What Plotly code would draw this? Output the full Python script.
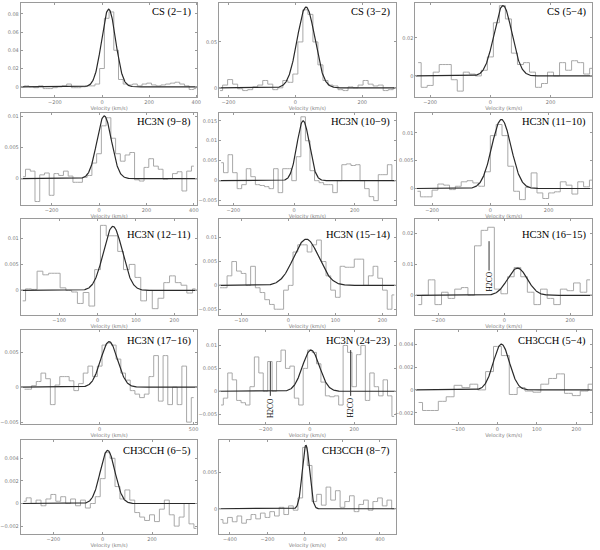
import numpy as np
import plotly.graph_objects as go

# ---------------- data (channel velocities in km/s, intensities) ----------------
cs21_v = [-340,-320,-300,-280,-260,-240,-220,-200,-180,-160,-140,-120,-100,-80,-60,-40,-20,0,20,40,60,80,100,120,140,160,180,200,220,240,260,280,300,320,340,360,380,400]
cs21_t = [0.000,0.001,0.000,-0.001,0.001,-0.002,-0.002,-0.001,0.000,0.001,0.003,-0.001,-0.001,0.000,0.001,0.001,0.003,0.020,0.075,0.082,0.040,0.008,0.003,0.002,0.003,0.001,0.003,0.004,0.002,0.001,0.002,0.003,0.004,0.005,0.003,0.001,-0.003,-0.002]
cs21_fit = [0.085, 28, 70]

cs32_v = [-225,-210,-195,-180,-165,-150,-135,-120,-105,-90,-75,-60,-45,-30,-15,0,15,30,45,60,75,90,105,120,135,150,165,180,195,210,225,240,255,270,285,300]
cs32_t = [-0.003,0.003,0.009,0.004,-0.001,-0.003,-0.002,0.001,0.003,0.008,0.004,-0.002,0.000,0.008,0.006,0.015,0.050,0.085,0.080,0.050,0.025,0.008,0.003,0.002,-0.002,-0.003,0.001,0.000,0.003,0.008,0.004,0.002,0.003,-0.003,-0.002,0.000]
cs32_fit = [0.088, 32, 62]

cs54_v = [-240,-220,-200,-180,-160,-140,-120,-100,-80,-60,-40,-20,0,20,40,60,80,100,120,140,160,180,200,220,240,260,280,300,320,340]
cs54_t = [0.007,-0.006,-0.005,0.002,0.006,0.006,-0.002,-0.008,0.002,0.001,0.000,0.003,0.010,0.028,0.037,0.030,0.012,0.006,0.007,0.002,-0.006,-0.004,0.002,0.000,0.007,0.003,0.008,0.007,0.001,0.004]
cs54_fit = [0.037, 42, 70]

h98_v = [-320,-300,-280,-260,-240,-220,-200,-180,-160,-140,-120,-100,-80,-60,-40,-20,0,20,40,60,80,100,120,140,160,180,200,220,240,260,280,300,320,340,360,380,400]
h98_t = [0.0003,0.0015,0.0012,-0.0037,0.0006,0.0009,-0.0027,0.0008,0.0005,0.0012,0.0004,-0.0006,-0.0006,0.0002,0.0005,0.0025,0.0040,0.0085,0.0098,0.0065,0.0040,0.0028,0.0038,0.0042,-0.0002,-0.0004,0.0018,0.0032,0.0020,0.0015,-0.0001,0.0000,0.0008,0.0011,-0.0020,0.0012,0.0020]
h98_fit = [0.0101, 22, 72]

h109_v = [-240,-225,-210,-195,-180,-165,-150,-135,-120,-105,-90,-75,-60,-45,-30,-15,0,15,30,45,60,75,90,105,120,135,150,165,180,195,210,225,240,255,270,285,300,315,330]
h109_t = [0.0045,0.002,0.0065,0.002,-0.002,-0.001,0.003,0.001,-0.001,-0.0012,-0.0015,-0.002,0.003,-0.003,0.003,0.003,0.0,0.006,0.016,0.010,0.0025,0.0,-0.0005,-0.001,-0.001,-0.003,0.0,0.004,0.0042,0.0038,0.004,0.0,-0.002,-0.004,-0.005,0.0015,0.0015,0.004,0.0]
h109_fit = [0.015, 30, 48]

h1110_v = [-250,-230,-210,-190,-170,-150,-130,-110,-90,-70,-50,-30,-10,10,30,50,70,90,110,130,150,170,190,210,230,250,270,290,310,330,350]
h1110_t = [-0.0005,-0.0015,-0.0015,-0.0003,0.0008,0.0006,-0.0002,0.0004,0.0012,0.0014,0.0010,0.0004,0.0030,0.0095,0.0115,0.0095,0.0040,-0.0005,-0.0020,0.0002,0.0028,-0.0008,-0.0018,-0.0008,-0.0006,0.0012,0.0006,-0.0010,0.0012,0.0003,0.0015]
h1110_fit = [0.0124, 38, 78]

h1211_v = [-195,-180,-165,-150,-135,-120,-105,-90,-75,-60,-45,-30,-15,0,15,30,45,60,75,90,105,120,135,150,165,180,195,210,225,240,255]
h1211_t = [-0.002,0.0003,0.0002,0.0037,0.003,0.0033,0.0033,0.0005,0.0,-0.0003,-0.0025,-0.0004,-0.003,0.004,0.0125,0.0105,0.0105,0.0075,0.004,0.005,0.0025,-0.002,0.0,-0.0035,-0.0015,0.0015,0.0028,0.0015,0.001,-0.0005,0.0003]
h1211_fit = [0.0123, 40, 58]

h1514_v = [-145,-135,-125,-115,-105,-95,-85,-75,-65,-55,-45,-35,-25,-15,-5,5,15,25,35,45,55,65,75,85,95,105,115,125,135,145,155,165,175,185,195,205,215,225]
h1514_t = [-0.0005,-0.0005,0.002,0.005,0.003,0.0025,0.0,0.004,-0.0005,-0.0015,-0.003,-0.004,-0.005,-0.005,-0.001,0.0,0.007,0.0085,0.0085,0.007,0.0085,0.0095,0.005,0.002,-0.001,-0.0025,0.004,0.0038,0.0038,0.0055,0.0055,0.0,0.002,0.004,0.0015,-0.001,-0.005,-0.002]
h1514_fit = [0.0097, 38, 63]

h1615_v = [-260,-240,-220,-200,-180,-160,-140,-120,-100,-80,-60,-40,-20,0,20,40,60,80,100,120,140,160,180,200,220,240,260]
h1615_t = [-0.003,0.000,0.005,-0.003,0.001,-0.001,0.002,0.0025,0.0,0.016,0.021,0.022,0.002,0.0005,0.006,0.009,0.006,0.001,-0.003,0.002,-0.001,-0.003,0.002,0.0015,0.004,0.001,0.005]
h1615_fit = [0.0088, 40, 70]

h1716_v = [-400,-375,-350,-325,-300,-275,-250,-225,-200,-175,-150,-125,-100,-75,-50,-25,0,25,50,75,100,125,150,175,200,225,250,275,300,325,350,375,400,425,450,475,500]
h1716_t = [-0.0003,-0.0003,0.0002,0.0008,0.002,0.0012,-0.0025,0.0003,0.0015,0.0015,0.0009,-0.0005,0.0005,0.002,0.003,0.0015,0.003,0.006,0.0063,0.006,0.004,0.002,0.001,-0.0005,-0.001,-0.0015,-0.001,0.0015,0.0045,-0.002,0.0045,-0.0025,0.0,-0.0025,0.003,-0.005,-0.0015]
h1716_fit = [0.0065, 50, 105]

h2423_v = [-400,-380,-360,-340,-320,-300,-280,-260,-240,-220,-200,-180,-160,-140,-120,-100,-80,-60,-40,-20,0,20,40,60,80,100,120,140,160,180,200,220,240,260,280,300,320,340,360,380]
h2423_t = [-0.003,-0.0015,0.004,0.0025,-0.002,-0.0025,-0.003,0.001,0.0075,0.004,0.0,0.0065,0.0,0.0065,0.009,0.005,0.0055,-0.0015,-0.003,0.005,0.009,0.0085,0.006,0.002,-0.001,-0.0012,-0.001,-0.003,0.010,0.0085,0.001,0.008,0.010,-0.002,0.004,0.001,-0.001,0.0025,-0.001,-0.0055]
h2423_fit = [0.009, 5, 90]

c54_v = [-200,-180,-160,-140,-120,-100,-80,-60,-40,-20,0,20,40,60,80,100,120,140,160,180,200,220,240]
c54_t = [-0.0011,-0.0018,-0.0018,-0.001,-0.0006,0.0004,0.0002,0.0005,0.0,0.0016,0.0038,0.0030,-0.0004,0.0002,-0.0001,-0.0002,0.0005,0.001,0.0014,-0.0003,-0.0005,-0.0001,0.0005]
c54_fit = [0.0040, 10, 48]

c65_v = [-320,-300,-280,-260,-240,-220,-200,-180,-160,-140,-120,-100,-80,-60,-40,-20,0,20,40,60,80,100,120,140,160,180,200,220,240,260,280,300,320,340,360,380]
c65_t = [0.0002,0.0005,0.0,0.0003,-0.0002,0.0004,0.0008,0.0002,0.0006,0.0,0.0004,-0.0002,0.0003,-0.0004,0.0,0.0006,0.0022,0.0045,0.0040,0.0015,0.0004,0.0012,0.0003,-0.0008,-0.0012,-0.0015,-0.0010,-0.0016,-0.0005,0.0003,-0.0010,-0.0020,-0.0012,0.0,-0.0018,-0.0022]
c65_fit = [0.0047, 20, 70]

c87_v = [-450,-425,-400,-375,-350,-325,-300,-275,-250,-225,-200,-175,-150,-125,-100,-75,-50,-25,0,25,50,75,100,125,150,175,200,225,250,275,300,325,350,375,400,425,450,475]
c87_t = [-0.0015,-0.002,-0.0012,-0.0018,-0.001,-0.002,-0.0015,-0.0008,-0.0014,-0.0006,-0.0012,-0.0004,-0.001,0.0002,-0.0008,0.0004,-0.0002,0.0015,0.0085,0.006,0.001,0.002,0.0005,0.003,0.0012,0.0025,0.0002,0.001,0.0018,-0.0004,0.0006,0.0012,-0.0002,0.001,0.0015,0.0004,0.0012,0.0]
c87_fit = [0.0088, 5, 45]

labels = ["CS (2−1)", "CS (3−2)", "CS (5−4)",
          "HC3N (9−8)", "HC3N (10−9)", "HC3N (11−10)",
          "HC3N (12−11)", "HC3N (15−14)", "HC3N (16−15)",
          "HC3N (17−16)", "HC3N (24−23)", "CH3CCH (5−4)",
          "CH3CCH (6−5)", "CH3CCH (8−7)"]

panels = [
    dict(v=cs21_v, t=cs21_t, fit=cs21_fit, xr=[-345, 405], yr=[-0.011, 0.0918], xt=[-200, 0, 200, 400], yt=[0, 0.02, 0.04, 0.06, 0.08]),
    dict(v=cs32_v, t=cs32_t, fit=cs32_fit, xr=[-228, 300], yr=[-0.0098, 0.0924], xt=[-200, 0, 200], yt=[0, 0.05]),
    dict(v=cs54_v, t=cs54_t, fit=cs54_fit, xr=[-249, 338], yr=[-0.011, 0.0384], xt=[-200, 0, 200], yt=[0, 0.02]),
    dict(v=h98_v, t=h98_t, fit=h98_fit, xr=[-330, 415], yr=[-0.0042, 0.0106], xt=[-200, 0, 200, 400], yt=[0, 0.005, 0.01]),
    dict(v=h109_v, t=h109_t, fit=h109_fit, xr=[-247, 335], yr=[-0.006, 0.017], xt=[-200, 0, 200], yt=[-0.005, 0, 0.005, 0.01, 0.015]),
    dict(v=h1110_v, t=h1110_t, fit=h1110_fit, xr=[-257, 349], yr=[-0.0029, 0.0136], xt=[-200, 0, 200], yt=[0, 0.005, 0.01]),
    dict(v=h1211_v, t=h1211_t, fit=h1211_fit, xr=[-200, 260], yr=[-0.0048, 0.0138], xt=[-100, 0, 100, 200], yt=[0, 0.005, 0.01]),
    dict(v=h1514_v, t=h1514_t, fit=h1514_fit, xr=[-147, 228], yr=[-0.0063, 0.014], xt=[-100, 0, 100, 200], yt=[-0.005, 0, 0.005, 0.01]),
    dict(v=h1615_v, t=h1615_t, fit=h1615_fit, xr=[-269, 266], yr=[-0.0065, 0.0248], xt=[-200, 0, 200], yt=[0, 0.01, 0.02]),
    dict(v=h1716_v, t=h1716_t, fit=h1716_fit, xr=[-420, 520], yr=[-0.0053, 0.0081], xt=[0, 500], yt=[-0.005, 0, 0.005]),
    dict(v=h2423_v, t=h2423_t, fit=h2423_fit, xr=[-409, 387], yr=[-0.0072, 0.0133], xt=[-200, 0, 200], yt=[-0.005, 0, 0.005, 0.01]),
    dict(v=c54_v, t=c54_t, fit=c54_fit, xr=[-208, 240], yr=[-0.003, 0.0052], xt=[-100, 0, 100, 200], yt=[-0.002, 0, 0.002, 0.004]),
    dict(v=c65_v, t=c65_t, fit=c65_fit, xr=[-332, 384], yr=[-0.0027, 0.0056], xt=[-200, 0, 200], yt=[-0.002, 0, 0.002, 0.004]),
    dict(v=c87_v, t=c87_t, fit=c87_fit, xr=[-458, 484], yr=[-0.0035, 0.0095], xt=[-400, -200, 0, 200, 400], yt=[0, 0.005]),
]

# H2CO markers: (panel index, velocity, line top, line bottom, text y)
h2co_marks = [
    (8, -46, 0.0175, 0.0080, 0.0045),
    (10, -178, 0.0065, -0.0010, -0.0036),
    (10, 184, 0.0090, -0.0010, -0.0036),
]

# ---------------- layout geometry (page pixels) ----------------
W, H = 600, 550
cols_px = [(17, 196), (218, 397), (417, 596)]
rows_px = [(3, 97), (113, 205), (219, 316), (331, 425), (441, 535)]
label_y = [12, 122, 235, 342, 452]

def fx(px):
    return px / W

def fy(py):
    return 1 - py / H

fig = go.Figure()
layout = dict(width=W, height=H, autosize=False, margin=dict(l=0, r=0, t=0, b=0),
              paper_bgcolor="white", plot_bgcolor="white", showlegend=False)
annotations = []
shapes = []

frame_col = "#9a9a9a"
tick_font = dict(family="DejaVu Sans", size=5, color="#7a7a7a")

for i, p in enumerate(panels):
    r, c = divmod(i, 3)
    x0, x1 = cols_px[c]
    y0, y1 = rows_px[r]
    n = i + 1
    xa = "xaxis" if n == 1 else f"xaxis{n}"
    ya = "yaxis" if n == 1 else f"yaxis{n}"
    xref = "x" if n == 1 else f"x{n}"
    yref = "y" if n == 1 else f"y{n}"

    fig.add_trace(go.Scatter(x=p["v"], y=p["t"], mode="lines", line_shape="hvh",
                             line=dict(color="#a8a8a8", width=1), xaxis=xref, yaxis=yref,
                             hoverinfo="skip"))
    amp, cen, fwhm = p["fit"]
    sig = fwhm / 2.3548
    xs = np.linspace(p["xr"][0], p["xr"][1], 500)
    ys = amp * np.exp(-0.5 * ((xs - cen) / sig) ** 2)
    fig.add_trace(go.Scatter(x=xs, y=ys, mode="lines", line=dict(color="#2a2a2a", width=1.2),
                             xaxis=xref, yaxis=yref, hoverinfo="skip"))

    layout[xa] = dict(domain=[fx(x0), fx(x1)], range=p["xr"], anchor=yref,
                      showline=True, linecolor=frame_col, linewidth=1, mirror="allticks",
                      ticks="inside", ticklen=2, tickcolor=frame_col,
                      tickvals=p["xt"], tickfont=tick_font, showgrid=False, zeroline=False,
                      title=dict(text="Velocity (km/s)", font=tick_font, standoff=1))
    layout[ya] = dict(domain=[fy(y1), fy(y0)], range=p["yr"], anchor=xref,
                      showline=True, linecolor=frame_col, linewidth=1, mirror="allticks",
                      ticks="inside", ticklen=2, tickcolor=frame_col,
                      tickvals=p["yt"], tickfont=tick_font, showgrid=False, zeroline=False)

    annotations.append(dict(text=labels[i], xref="paper", yref="paper",
                            x=fx(x1 - 4), y=fy(label_y[r]), xanchor="right", yanchor="middle",
                            showarrow=False,
                            font=dict(family="Liberation Serif", size=10.5, color="black")))

for (pi, vel, ytop, ybot, ytxt) in h2co_marks:
    n = pi + 1
    xref = f"x{n}"
    yref = f"y{n}"
    shapes.append(dict(type="line", xref=xref, yref=yref, x0=vel, x1=vel, y0=ybot, y1=ytop,
                       line=dict(color="#333333", width=1)))
    annotations.append(dict(text="H2CO", xref=xref, yref=yref, x=vel, y=ytxt, textangle=-90,
                            showarrow=False,
                            font=dict(family="Liberation Serif", size=7.5, color="black")))

layout["annotations"] = annotations
layout["shapes"] = shapes
fig.update_layout(**layout)
fig.write_html("out.html", config={"displayModeBar": False, "staticPlot": True},
               post_script="document.body.style.margin='0';")
